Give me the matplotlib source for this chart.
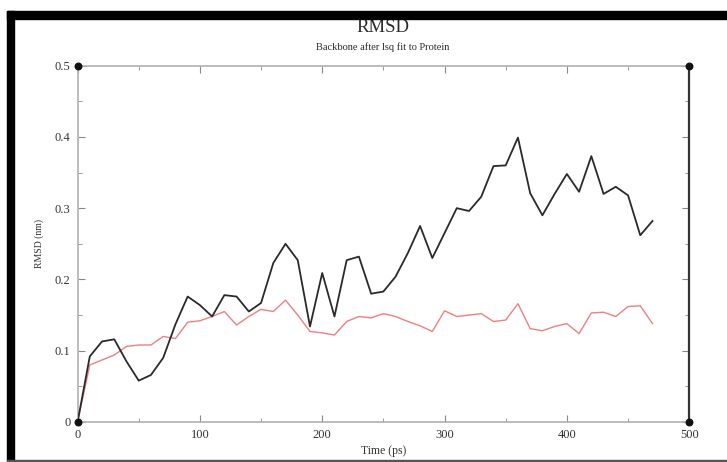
import numpy as np
import matplotlib
matplotlib.use("Agg")
import matplotlib.pyplot as plt
from matplotlib.ticker import MultipleLocator
from matplotlib.patches import Rectangle

plt.rcParams['font.family'] = ['Liberation Serif', 'DejaVu Serif']

# time axis (ps), one frame every 10 ps
time_ps = np.arange(0, 480, 10)

# backbone RMSD, black trace
rmsd_black = [0.000, 0.092, 0.113, 0.116, 0.085, 0.058, 0.066, 0.090, 0.137, 0.176,
              0.164, 0.148, 0.178, 0.176, 0.155, 0.167, 0.223, 0.250, 0.227, 0.134,
              0.209, 0.148, 0.227, 0.232, 0.180, 0.183, 0.204, 0.237, 0.275, 0.230,
              0.265, 0.300, 0.296, 0.316, 0.359, 0.360, 0.399, 0.321, 0.290, 0.320,
              0.348, 0.323, 0.373, 0.320, 0.330, 0.318, 0.262, 0.282]

# second trace, red
rmsd_red = [0.000, 0.080, 0.087, 0.094, 0.106, 0.108, 0.108, 0.120, 0.117, 0.140,
            0.142, 0.148, 0.155, 0.136, 0.148, 0.158, 0.155, 0.171, 0.150, 0.127,
            0.125, 0.122, 0.141, 0.148, 0.146, 0.152, 0.148, 0.141, 0.135, 0.127,
            0.156, 0.148, 0.150, 0.152, 0.141, 0.143, 0.166, 0.131, 0.128, 0.134,
            0.138, 0.124, 0.153, 0.154, 0.148, 0.162, 0.163, 0.138]

x_lim = (0, 500)
y_lim = (0, 0.5)
x_ticks = [0, 100, 200, 300, 400, 500]
x_ticklabels = ['0', '100', '200', '300', '400', '500']
y_ticks = [0, 0.1, 0.2, 0.3, 0.4, 0.5]
y_ticklabels = ['0', '0.1', '0.2', '0.3', '0.4', '0.5']

fig = plt.figure(figsize=(7.27, 4.62), dpi=100)
ax = fig.add_axes([0.1067, 0.0866, 0.8413, 0.7714])

ax.plot(time_ps, rmsd_red, color='#ee8080', linewidth=1.0, zorder=2)
ax.plot(time_ps, rmsd_black, color='#2a2a2a', linewidth=1.3, zorder=3)

ax.set_xlim(*x_lim)
ax.set_ylim(*y_lim)
ax.set_xticks(x_ticks)
ax.set_xticklabels(x_ticklabels)
ax.set_yticks(y_ticks)
ax.set_yticklabels(y_ticklabels)
ax.xaxis.set_minor_locator(MultipleLocator(50))
ax.yaxis.set_minor_locator(MultipleLocator(0.05))
ax.tick_params(which='both', direction='in', top=True, right=True,
               colors='#888888', labelcolor='#333333', labelsize=9)
ax.tick_params(axis='x', which='major', pad=5)
ax.tick_params(axis='y', which='major', pad=5)
ax.tick_params(which='major', length=5, width=0.8)
ax.tick_params(which='minor', length=3, width=0.6)

for side in ['left', 'top', 'bottom']:
    ax.spines[side].set_color('#b0b0b0')
    ax.spines[side].set_linewidth(1.2)
ax.spines['right'].set_color('#333333')
ax.spines['right'].set_linewidth(1.6)

# xmgrace style corner dots
ax.scatter([x_lim[0], x_lim[0], x_lim[1], x_lim[1]],
           [y_lim[0], y_lim[1], y_lim[0], y_lim[1]],
           s=22, color='#111111', zorder=5, clip_on=False)

ax.set_xlabel('Time (ps)', fontsize=8.5, color='#333333', labelpad=3)
ax.set_ylabel('RMSD (nm)', fontsize=7, color='#333333', labelpad=8)

fig.text(0.527, 0.94, 'RMSD', ha='center', va='center', fontsize=13.5, color='#2a2a2a')
fig.text(0.527, 0.898, 'Backbone after lsq fit to Protein', ha='center', va='center',
         fontsize=7.5, color='#2a2a2a')

# thick black frame around the screenshot (left and top), thin grey at bottom
fig.patches.append(Rectangle((7 / 727, 0), 7 / 727, 1 - 11 / 462,
                             transform=fig.transFigure, color='black', zorder=10))
fig.patches.append(Rectangle((7 / 727, 1 - 19 / 462), 1, 8 / 462,
                             transform=fig.transFigure, color='black', zorder=10))
fig.patches.append(Rectangle((7 / 727, 0), 1, 2 / 462,
                             transform=fig.transFigure, color='#555555', zorder=10))

fig.savefig('out.png', dpi=100)
